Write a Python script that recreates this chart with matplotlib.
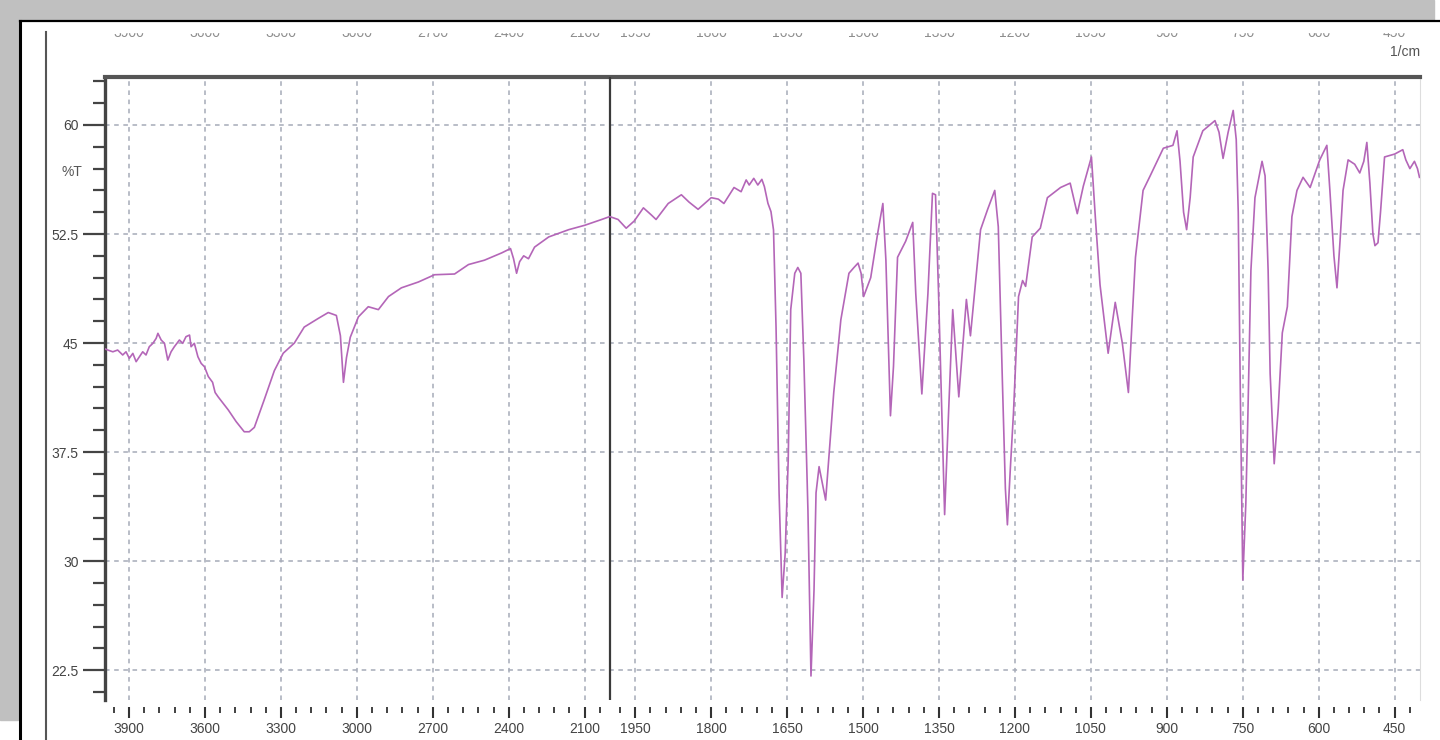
import numpy as np
import matplotlib
matplotlib.use("Agg")
import matplotlib.pyplot as plt
from matplotlib.patches import Rectangle
from matplotlib.lines import Line2D
from matplotlib.transforms import blended_transform_factory

plt.rcParams['font.family'] = ['Liberation Sans', 'DejaVu Sans']

# spectrum (1/cm, %T)
wavenumber = [
    3995, 3984, 3964, 3945, 3925, 3912, 3899, 3885, 3872, 3859, 3846, 3833,
    3820, 3806, 3793, 3786, 3773, 3760, 3747, 3734, 3721, 3701, 3688, 3675,
    3661, 3655, 3642, 3628, 3615, 3602, 3587, 3570, 3560, 3548, 3530, 3508,
    3477, 3445, 3425, 3405, 3366, 3326, 3291, 3247, 3208, 3152, 3113, 3081,
    3065, 3053, 3041, 3026, 2994, 2955, 2915, 2875, 2824, 2757, 2693, 2614,
    2559, 2496, 2428, 2393, 2381, 2369, 2357, 2341, 2322, 2298, 2242, 2163,
    2100, 2033, 2001,
    1984, 1968, 1952, 1934, 1918, 1909, 1885, 1859, 1844, 1826, 1800, 1786,
    1775, 1755, 1741, 1731, 1725, 1716, 1708, 1700, 1695, 1688, 1682, 1677,
    1672, 1666, 1660, 1654, 1648, 1643, 1635, 1629, 1623, 1617, 1609, 1603,
    1597, 1593, 1587, 1574, 1558, 1544, 1528, 1518, 1510, 1504, 1499, 1485,
    1471, 1461, 1455, 1446, 1440, 1432, 1416, 1402, 1396, 1384, 1372, 1363,
    1357, 1351, 1343, 1339, 1331, 1323, 1311, 1296, 1288, 1268, 1254, 1240,
    1233, 1225, 1219, 1215, 1209, 1203, 1193, 1185, 1179, 1166, 1150, 1136,
    1110, 1091, 1077, 1065, 1049, 1041, 1032, 1016, 1002, 988, 976, 968,
    962, 947, 933, 907, 888, 880, 874, 867, 861, 854, 848, 829,
    805, 797, 789, 779, 769, 763, 759, 755, 750, 744, 740, 734,
    726, 712, 706, 700, 696, 688, 680, 672, 662, 653, 643, 631,
    617, 598, 584, 578, 570, 564, 558, 552, 542, 529, 519, 511,
    505, 499, 493, 489, 483, 478, 470, 450, 434, 428, 420, 411,
    405, 401,
]
transmittance = [
    44.6, 44.52, 44.4, 44.52, 44.18, 44.4, 43.95, 44.29, 43.72, 44.06, 44.4, 44.18,
    44.75, 44.98, 45.32, 45.67, 45.21, 44.98, 43.83, 44.4, 44.75, 45.21, 44.98, 45.44,
    45.55, 44.75, 44.98, 44.06, 43.6, 43.37, 42.7, 42.3, 41.6, 41.3, 40.9, 40.4,
    39.6, 38.9, 38.9, 39.2, 41.1, 43.1, 44.3, 45.0, 46.1, 46.7, 47.1, 46.9,
    45.5, 42.3, 44.0, 45.4, 46.8, 47.5, 47.3, 48.2, 48.8, 49.2, 49.7, 49.75,
    50.4, 50.7, 51.2, 51.5, 50.8, 49.8, 50.6, 51.0, 50.8, 51.6, 52.3, 52.8,
    53.1, 53.5, 53.7,
    53.5, 52.9, 53.4, 54.3, 53.8, 53.5, 54.6, 55.2, 54.7, 54.2, 55.0, 54.9,
    54.6, 55.7, 55.41, 56.22, 55.87, 56.33, 55.87, 56.26, 55.76, 54.61, 54.04, 52.78,
    46.1, 34.7, 27.5, 30.5, 36.9, 47.3, 49.8, 50.2, 49.8, 43.8, 33.5, 22.1,
    28.0, 34.7, 36.5, 34.2, 41.6, 46.6, 49.8, 50.2, 50.5, 49.8, 48.2, 49.5,
    52.6, 54.6, 50.7, 40.0, 43.4, 50.9, 52.0, 53.3, 48.4, 41.5, 48.4, 55.3,
    55.2, 48.4, 38.1, 33.2, 40.4, 47.3, 41.3, 48.0, 45.5, 52.8, 54.2, 55.5,
    53.0, 42.5, 35.0, 32.5, 36.5, 40.2, 48.2, 49.3, 48.9, 52.3, 52.9, 55.0,
    55.7, 56.0, 53.9, 55.8, 57.8, 53.5, 49.0, 44.3, 47.8, 45.0, 41.6, 47.0,
    50.9, 55.5, 56.5, 58.4, 58.6, 59.6, 57.5, 54.0, 52.8, 55.0, 57.8, 59.6,
    60.3, 59.5, 57.7, 59.5, 61.0, 59.0, 54.0, 41.8, 28.7, 34.0, 40.0, 50.0,
    55.0, 57.5, 56.5, 50.0, 42.9, 36.7, 40.5, 45.7, 47.5, 53.7, 55.5, 56.4,
    55.7, 57.6, 58.6, 55.5, 51.0, 48.8, 52.0, 55.5, 57.6, 57.3, 56.7, 57.5,
    58.8, 56.0, 52.5, 51.7, 51.9, 54.0, 57.8, 58.0, 58.3, 57.6, 57.0, 57.5,
    57.0, 56.4,
]

y_major = [22.5, 30, 37.5, 45, 52.5, 60]
y_labels = ['22.5', '30', '37.5', '45', '52.5', '60']
x_major = [3900, 3600, 3300, 3000, 2700, 2400, 2100,
           1950, 1800, 1650, 1500, 1350, 1200, 1050, 900, 750, 600, 450]


# the region above 2000 1/cm is drawn at half scale
def fwd(w):
    w = np.asarray(w, dtype=float)
    return np.where(w <= 2000, w, 2000 + (w - 2000) / 2)


def inv(u):
    u = np.asarray(u, dtype=float)
    return np.where(u <= 2000, u, 2000 + (u - 2000) * 2)


W, H = 1440, 740
fig = plt.figure(figsize=(W / 100, H / 100), dpi=100)
fig.patch.set_facecolor('white')

ax = fig.add_axes([105 / W, 1 - 700 / H, (1420 - 105) / W, (700 - 77) / H])
ax.set_xscale('function', functions=(fwd, inv))
ax.plot(wavenumber, transmittance, color='#b466b8', lw=1.2, zorder=4)
ax.set_xlim(3995, 400)
ax.set_ylim(20.45, 63.3)

x_minor = [w for w in range(3960, 2000, -60) if w not in x_major]
x_minor += [w for w in range(1980, 400, -30) if w not in x_major]
y_minor = [v for v in np.arange(21, 63.1, 1.5) if v not in y_major]

ax.set_xticks(x_major)
ax.set_xticklabels([str(w) for w in x_major])
ax.set_xticks(x_minor, minor=True)
ax.set_yticks(y_major)
ax.set_yticklabels(y_labels)
ax.set_yticks(y_minor, minor=True)

ax.tick_params(axis='x', which='major', direction='out', length=8, width=1.5,
               color='#333333', labelsize=10, labelcolor='#444444', pad=3)
ax.tick_params(axis='x', which='minor', direction='out', length=4.5, width=1.3,
               color='#333333')
ax.tick_params(axis='y', which='major', direction='out', length=16, width=1.6,
               color='#444444', labelsize=10, labelcolor='#444444', pad=3)
ax.tick_params(axis='y', which='minor', direction='out', length=9, width=1.6,
               color='#444444')

ax.grid(True, which='major', color='#a6abb8', ls=(0, (3, 3)), lw=1.1)
ax.axvline(2000, color='#3a3a3a', lw=1.6, zorder=3)

ax.spines['top'].set_linewidth(3)
ax.spines['top'].set_color('#555555')
ax.spines['left'].set_linewidth(2.4)
ax.spines['left'].set_color('#444444')
ax.spines['right'].set_linewidth(0.8)
ax.spines['right'].set_color('#dddddd')
ax.spines['bottom'].set_visible(False)
ax.spines['bottom'].set_position(('outward', 5))

fig.text(72 / W, 1 - 172 / H, '%T', ha='center', va='center',
         fontsize=10, color='#555555')
fig.text(1420 / W, 1 - 52 / H, '1/cm', ha='right', va='center',
         fontsize=10, color='#555555')

# labels of the page above, cut off by the scan
top_tr = blended_transform_factory(ax.transData, fig.transFigure)
for w in x_major:
    fig.text(w, 1 - 37 / H, str(w), transform=top_tr, ha='center',
             va='baseline', fontsize=10, color='#8c8c8c', zorder=1)
# white strip hides the upper half of those labels
fig.add_artist(Rectangle((20 / W, 1 - 31.5 / H), 1 - 20 / W, 10.5 / H,
                         transform=fig.transFigure, color='white', zorder=9))

# scan border
fig.add_artist(Rectangle((0, 1 - 20 / H), 1434 / W, 20 / H,
                         transform=fig.transFigure, color='#c0c0c0', zorder=10))
fig.add_artist(Rectangle((0, 1 - 720 / H), 18 / W, 720 / H,
                         transform=fig.transFigure, color='#c0c0c0', zorder=10))
fig.add_artist(Line2D([20 / W, 1], [1 - 21 / H] * 2, color='black', lw=1.6,
                      transform=fig.transFigure, zorder=11))
fig.add_artist(Line2D([20 / W] * 2, [0, 1 - 21 / H], color='black', lw=2.2,
                      transform=fig.transFigure, zorder=11))
fig.add_artist(Line2D([46 / W] * 2, [0, 1 - 32 / H], color='#555555', lw=1.5,
                      transform=fig.transFigure, zorder=11))

fig.savefig('out.png', dpi=100)
